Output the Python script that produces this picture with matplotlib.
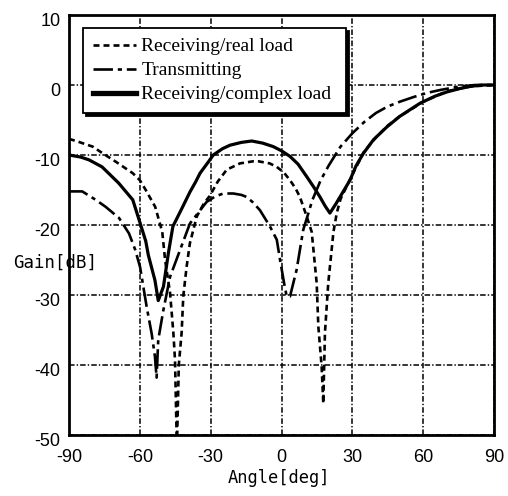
import matplotlib
matplotlib.use("Agg")
import matplotlib.pyplot as plt
import matplotlib.transforms as mtransforms

plt.rcParams['lines.scale_dashes'] = False
plt.rcParams['axes.unicode_minus'] = False

# Receiving / real load
real_deg = [-90, -87, -80, -76, -70, -63, -60, -57.5, -53.5, -50.5, -49.3, -47.2, -45.8, -45.1, -44.3,
            -43.5, -42.3, -41.6, -40.2, -38.8, -35.9, -33, -30.3, -27, -23.2, -17.6, -12, -9.8, -5, -2,
            1, 3.6, 6, 7.8, 10.7, 12.8, 14.9, 15.6, 17.0, 17.7, 18.4, 19.8, 22, 23.4, 25, 28, 30, 35,
            40, 45, 50, 60, 70, 80, 90]
real_db = [-7.7, -8.0, -8.8, -9.7, -11.0, -12.6, -13.6, -15.0, -17.4, -21.0, -25.0, -29.7, -35.4, -39.3, -52,
           -40.0, -35.4, -30.2, -26.0, -22.6, -18.8, -17.0, -15.8, -13.8, -12.1, -11.2, -10.9, -10.9, -11.2, -11.7,
           -12.5, -13.6, -14.8, -16.0, -18.8, -21.0, -28.3, -34.5, -40.2, -45.5, -35.4, -28.3, -21.0, -18.3, -16.3, -14.2, -12.8, -9.5,
           -7.5, -5.8, -4.5, -2.4, -0.9, -0.2, 0.0]

# Transmitting
tx_deg = [-90, -84.4, -78.7, -74.5, -68.8, -64.6, -62, -59.9, -57.1, -55, -53.6, -52.9, -52.2, -50, -47.2,
          -43, -38.8, -34.5, -31.7, -28, -24.6, -20.4, -17, -14.7, -12, -9.1, -4.9, -2, -0.6, 1.2, 2.2,
          3.6, 5, 6.4, 9.2, 11.4, 13, 16.6, 20, 25, 30, 35, 40, 44.8, 50, 56.1, 62, 67.4, 75.6, 82, 90]
tx_db = [-15.2, -15.2, -16.4, -17.4, -19.0, -21.2, -23.5, -26.0, -31.7, -35.5, -38.8, -41.8, -36.4, -32.1, -27.4,
         -23.6, -19.8, -17.9, -16.7, -15.9, -15.5, -15.5, -15.7, -16.0, -16.8, -17.9, -20.2, -22.1, -25.0, -28.5, -30.2,
         -30.2, -28.3, -26.4, -20.7, -18.3, -16.5, -13.6, -11.5, -8.8, -6.9, -5.3, -4.0, -3.1, -2.4, -1.7, -1.1, -0.7, -0.2, 0.0, 0.0]

# Receiving / complex load
cx_deg = [-90, -85, -81.5, -76, -69, -63, -60, -57.5, -56.4, -53.6, -52.2, -50, -47.9, -46, -42, -38.8,
          -36.3, -34.5, -31, -28.9, -25, -21.8, -17, -12.6, -8, -3.5, 0, 3.6, 7, 10.7, 13.5, 16.3, 18.5,
          20.5, 23, 26, 29, 31.5, 34.6, 39, 44.6, 50, 58.7, 65, 70, 75.6, 80, 85, 90]
cx_db = [-10.0, -10.3, -10.7, -11.7, -14.0, -16.4, -19.6, -22.3, -24.3, -27.9, -30.8, -28.8, -24.0, -20.2, -17.5, -15.3,
         -13.8, -12.6, -11.0, -10.0, -9.1, -8.6, -8.2, -8.0, -8.3, -8.8, -9.4, -10.2, -11.3, -13.1, -14.5, -16.0, -17.3,
         -18.3, -17.0, -15.3, -13.6, -11.6, -9.8, -7.8, -6.0, -4.5, -2.6, -1.6, -1.0, -0.5, -0.2, 0.0, 0.0]

labels = ["Receiving/real load", "Transmitting", "Receiving/complex load"]
xticks = [-90, -60, -30, 0, 30, 60, 90]
yticks = [-50, -40, -30, -20, -10, 0, 10]

fig = plt.figure(figsize=(5.08, 4.96), dpi=100)
ax = fig.add_axes([69/508, 1-435/496, 425/508, 420/496])

ax.plot(real_deg, real_db, color='black', lw=1.9, dashes=(4.3, 2.9), label=labels[0])
ax.plot(tx_deg, tx_db, color='black', lw=1.9, dashes=(14, 3.5, 3, 3.5), label=labels[1])
ax.plot(cx_deg, cx_db, color='black', lw=2.3, label=labels[2])

ax.set_xlim(-90, 90)
ax.set_ylim(-50, 10)
ax.set_xticks(xticks)
ax.set_yticks(yticks)
ax.grid(True, color='black', lw=1.1, linestyle=(0, (4, 1.5, 1, 1.5)))
ax.set_axisbelow(True)
for s in ax.spines.values():
    s.set_linewidth(2)
ax.tick_params(axis='y', length=0, pad=6)
ax.tick_params(axis='x', length=0, pad=10)
off = mtransforms.ScaledTranslation(0, -5/100, fig.dpi_scale_trans)
for lab in ax.get_xticklabels() + ax.get_yticklabels():
    lab.set_fontfamily('Liberation Sans')
    lab.set_fontsize(13)
for lab in ax.get_yticklabels():
    lab.set_transform(lab.get_transform() + off)

x0 = (83 - 69) / 425
x1 = (346 - 69) / 425
y1 = 1 - (28 - 15) / 420
y0 = 1 - (112 - 15) / 420
leg = ax.legend(loc='upper left', bbox_to_anchor=(x0, y0, x1 - x0, y1 - y0), mode='expand',
                borderaxespad=0,
                fancybox=False, framealpha=1, edgecolor='black',
                shadow={'color': 'black', 'alpha': 1},
                prop={'family': 'Liberation Serif', 'size': 14},
                handlelength=2.2, handletextpad=0.3, labelspacing=0.33,
                borderpad=0.5)
leg.get_frame().set_linewidth(1.3)
leg.get_lines()[2].set_linewidth(3.8)

fig.text(13/508, 1-263/496, "Gain[dB]", family='DejaVu Sans Mono', fontsize=12.5,
         ha='left', va='center')
fig.text(279/508, 1-478/496, "Angle[deg]", family='DejaVu Sans Mono', fontsize=12.3,
         ha='center', va='center')

fig.savefig("out.png", dpi=100)
